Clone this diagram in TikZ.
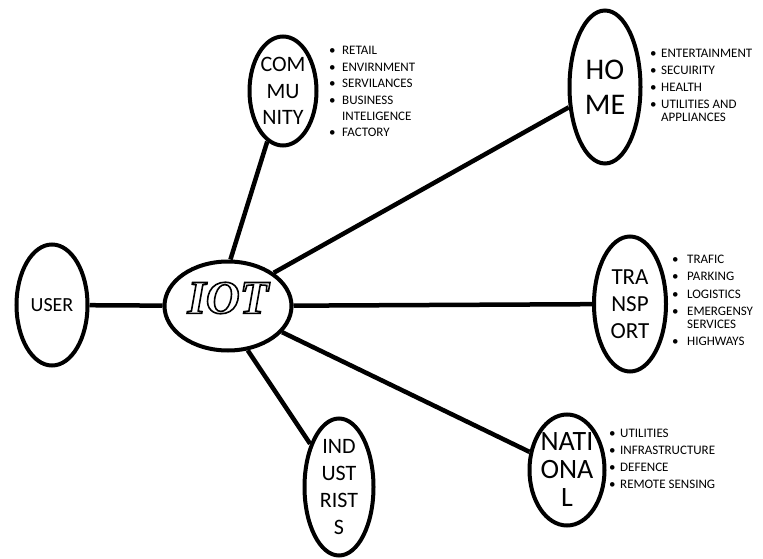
\documentclass[tikz,border=0pt]{standalone}
\usepackage{fontspec}
\setmainfont{Carlito}
\newfontfamily\iotfont{Liberation Serif}
\usetikzlibrary{shapes.geometric}

% outlined letters (stroke only)
\newcommand{\outl}[1]{\special{pdf:literal 1 Tr 1.6 w}#1\special{pdf:literal 0 Tr}}

\tikzset{
  bubble/.style={ellipse,draw=black,line width=4pt,inner sep=0pt,align=center},
  link/.style={line width=4.5pt},
  lst/.style={anchor=base west,inner sep=0pt,font=\fontsize{13}{17}\selectfont}
}

\begin{document}
\begin{tikzpicture}[x=1pt,y=-1pt]
\useasboundingbox (0,0) rectangle (763,559);

\node[bubble,minimum width=71pt,minimum height=121pt,font=\fontsize{20}{24}\selectfont] (user) at (52,305) {USER};
\node[bubble,minimum width=127pt,minimum height=89pt] (iot) at (228,306) {};
\node[inner sep=0pt,font=\iotfont\bfseries\itshape\fontsize{47}{47}\selectfont] (iottxt) at (228,298) {\outl{IOT}};

\node[bubble,minimum width=67pt,minimum height=109pt,font=\fontsize{22}{26.5}\selectfont] (comm) at (283,91) {COM\\MU\\NITY};
\node[bubble,minimum width=71pt,minimum height=153pt,font=\fontsize{30}{35}\selectfont] (home) at (605,87) {HO\\ME};
\node[bubble,minimum width=72pt,minimum height=135pt,font=\fontsize{23}{27}\selectfont] (trans) at (630,304) {TRA\\NSP\\ORT};
\node[bubble,minimum width=75pt,minimum height=111pt,font=\fontsize{28}{28}\selectfont] (nat) at (567,470) {NATI\\ONA\\L};
\node[bubble,minimum width=69pt,minimum height=137pt,font=\fontsize{22}{27}\selectfont] (indus) at (339,487) {IND\\UST\\RIST\\S};

\draw[link] (user) -- (iot);
\draw[link] (iot.87) -- (comm);
\draw[link] (iot.36) -- (home);
\draw[link] (iot) -- (trans);
\draw[link] (iot) -- (nat);
\draw[link] (iot.-66) -- (indus);

\node[lst,font=\fontsize{13}{16.4}\selectfont] (commlist) at (329,55) {\begin{tabular}[t]{@{}p{13pt}@{}l@{}}
\textbullet & RETAIL\\
\textbullet & ENVIRNMENT\\
\textbullet & SERVILANCES\\
\textbullet & BUSINESS\\
 & INTELIGENCE\\
\textbullet & FACTORY
\end{tabular}};

\node[lst] (homelist) at (650,58) {\begin{tabular}[t]{@{}p{11pt}@{}l@{}}
\textbullet & ENTERTAINMENT\\
\textbullet & SECUIRITY\\
\textbullet & HEALTH\\
\textbullet & UTILITIES AND\\[-4pt]
 & APPLIANCES
\end{tabular}};

\node[lst,font=\fontsize{13}{17.5}\selectfont] (translist) at (672,263) {\begin{tabular}[t]{@{}p{15pt}@{}l@{}}
\textbullet & TRAFIC\\
\textbullet & PARKING\\
\textbullet & LOGISTICS\\
\textbullet & EMERGENSY\\[-5pt]
 & SERVICES\\
\textbullet & HIGHWAYS
\end{tabular}};

\node[lst] (natlist) at (609,437) {\begin{tabular}[t]{@{}p{11pt}@{}l@{}}
\textbullet & UTILITIES\\
\textbullet & INFRASTRUCTURE\\
\textbullet & DEFENCE\\
\textbullet & REMOTE SENSING
\end{tabular}};

\end{tikzpicture}
\end{document}
